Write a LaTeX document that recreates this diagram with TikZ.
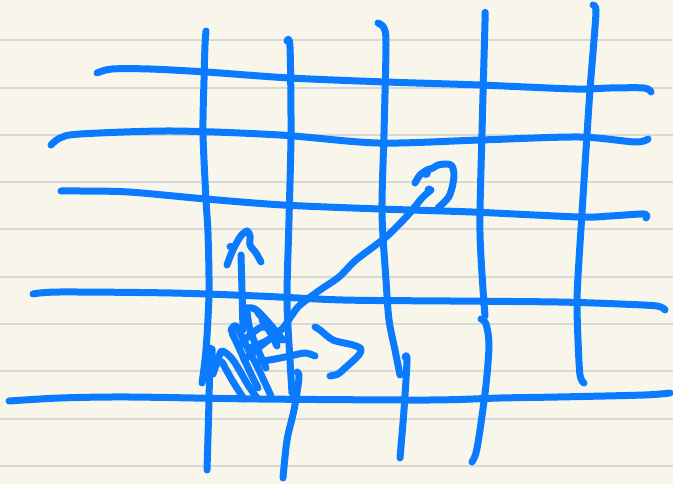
\documentclass[tikz,border=0pt]{standalone}
\begin{document}
\begin{tikzpicture}[x=1pt,y=-1pt,
  ink/.style={draw=inkblue, line width=7pt, line cap=round, line join=round},
  rule/.style={draw=rulegrey, line width=1.8pt}]
\definecolor{inkblue}{RGB}{10,123,255}
\definecolor{paper}{RGB}{248,245,234}
\definecolor{rulegrey}{RGB}{216,216,214}
\useasboundingbox (0,0) rectangle (673,484);
\fill[paper] (0,0) rectangle (673,484);
\foreach \y in {40,88,135,182,229,277,324,371,419,466}
  \draw[rule] (0,\y) -- (673,\y);
% vertical lines
\draw[ink] plot[smooth,tension=0.5] coordinates {(206,31) (205,45) (204,80) (203,133) (206,200) (208,233) (209,293) (206,350) (202,383)};
\draw[ink] plot[smooth,tension=0.5] coordinates {(210,348) (209,400) (207,470)};
\draw[ink] plot[smooth,tension=0.5] coordinates {(287,41) (290,47) (291,133) (289,220) (287,300) (290,360) (292,393)};
\draw[ink] plot[smooth,tension=0.5] coordinates {(297,372) (299,378) (294,410) (287,440) (283,478)};
\draw[ink] plot[smooth,tension=0.5] coordinates {(378,23) (384,28) (386,45) (384,133) (382,213) (386,280) (389,320) (395,350) (400,375)};
\draw[ink] plot[smooth,tension=0.5] coordinates {(405,357) (407,360) (404,410) (400,458)};
\draw[ink] plot[smooth,tension=0.5] coordinates {(485,15) (485,22) (482,133) (480,233) (485,316)};
\draw[ink] plot[smooth,tension=0.5] coordinates {(481,319) (486,324) (489,345) (486,385) (480,430) (476,453) (472,462)};
\draw[ink] plot[smooth,tension=0.5] coordinates {(593,5) (596,10) (594,40) (590,90) (586,150) (582,213) (579,260) (577,300) (578,340) (580,375) (584,383)};
% horizontal lines
\draw[ink] plot[smooth,tension=0.5] coordinates {(97,73) (112,69) (150,69) (206,72) (290,78) (386,82) (480,85) (575,89) (610,88) (644,88) (651,92)};
\draw[ink] plot[smooth,tension=0.5] coordinates {(51,145) (60,138) (80,134) (172,131) (280,135) (378,143) (480,140) (579,137) (635,142) (648,139)};
\draw[ink] plot[smooth,tension=0.5] coordinates {(61,191) (80,191) (129,192) (206,199) (283,205) (380,209) (472,212) (579,217) (610,216) (644,214) (646,218)};
\draw[ink] plot[smooth,tension=0.5] coordinates {(33,294) (60,292) (172,293) (258,296) (343,300) (450,301) (558,302) (620,304) (657,306) (665,310)};
\draw[ink] plot[smooth,tension=0.5] coordinates {(9,401) (60,398) (129,397) (258,399) (429,400) (500,398) (558,397) (644,395) (670,393)};
% up arrow
\draw[ink] plot[smooth,tension=0.5] coordinates {(241,255) (242,290) (243,330)};
\draw[ink] plot[smooth,tension=0.5] coordinates {(227,265) (232,252) (240,237) (247,231) (250,236) (250,245) (256,253) (261,262)};
\draw[ink] (230,247) -- (234,247);
% diagonal arrow
\draw[ink] plot[smooth,tension=0.5] coordinates {(252,347) (268,340) (283,328) (292,315) (300,305) (320,290) (339,277) (356,260) (386,237) (408,215) (422,198) (431,190)};
\fill[inkblue] (429,190) circle (4.5);
\draw[ink] plot[smooth,tension=0.5] coordinates {(415,183) (420,175) (427,170) (433,168) (438,165) (447,164) (452,166) (454,175) (452,188) (448,198) (438,208)};
\fill[inkblue] (426,173) circle (5);
% right arrow
\draw[ink] plot[smooth,tension=0.5] coordinates {(258,362) (275,359) (290,356) (305,353) (315,356)};
\draw[ink] plot[smooth,tension=0.5] coordinates {(315,327) (320,330) (333,340) (353,345) (361,349) (358,356) (345,368) (338,374) (330,376)};
% scribble
\draw[ink] plot[smooth,tension=0.5] coordinates {(212,349) (213,374)};
\draw[ink] plot[smooth,tension=0.5] coordinates {(213,374) (218,360) (222,351) (233,360) (248,385) (257,398)};
\draw[ink] plot[smooth,tension=0.5] coordinates {(222,362) (232,380) (244,399)};
\draw[ink] plot[smooth,tension=0.5] coordinates {(231,330) (236,326) (246,345) (258,368) (271,396)};
\draw[ink] plot[smooth,tension=0.5] coordinates {(232,333) (240,350) (250,372) (258,388)};
\draw[ink] plot[smooth,tension=0.5] coordinates {(245,308) (255,309) (268,322) (283,340)};
\draw[ink] plot[smooth,tension=0.5] coordinates {(247,312) (250,330) (258,350) (266,368)};
\draw[ink] plot[smooth,tension=0.5] coordinates {(240,345) (250,335) (262,327) (275,330)};
\draw[ink] plot[smooth,tension=0.5] coordinates {(244,360) (262,345) (275,335)};
\draw[ink] plot[smooth,tension=0.5] coordinates {(258,313) (266,322) (280,340)};
\draw[ink] plot[smooth,tension=0.5] coordinates {(262,320) (270,332) (277,346)};
\end{tikzpicture}
\end{document}
